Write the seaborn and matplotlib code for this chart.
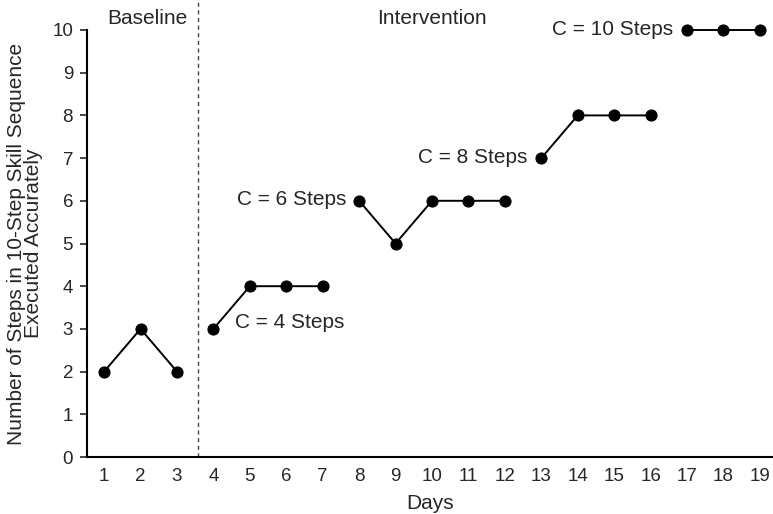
import matplotlib
matplotlib.use("Agg")
import matplotlib.pyplot as plt
import seaborn as sns
import pandas as pd

days = list(range(1, 20))
steps = [2, 3, 2, 3, 4, 4, 4, 6, 5, 6, 6, 6, 7, 8, 8, 8, 10, 10, 10]
phase = [0, 0, 0, 1, 1, 1, 1, 2, 2, 2, 2, 2, 3, 3, 3, 3, 4, 4, 4]
criterion_labels = ["C = 4 Steps", "C = 6 Steps", "C = 8 Steps", "C = 10 Steps"]
phase_names = ["Baseline", "Intervention"]

df = pd.DataFrame({"Day": days, "Steps": steps, "Phase": phase})

sns.set_style("white")
plt.rcParams['font.family'] = ['Liberation Sans', 'DejaVu Sans']

fig = plt.figure(figsize=(7.73, 5.14), dpi=100)
ax = fig.add_axes([87/773, 57/514, 1 - 87/773, (457 - 30)/514])

for p, g in df.groupby("Phase"):
    sns.lineplot(data=g, x="Day", y="Steps", ax=ax, color="black", lw=1.4,
                 marker="o", markersize=8, markeredgecolor="black", legend=False,
                 clip_on=False)

ax.plot([3.58, 3.58], [0, 10.72], color="#444444", ls=(0, (3, 2.5)), lw=1, clip_on=False)

fs = 15
ax.text(2.18, 10.28, phase_names[0], ha="center", va="center", fontsize=fs)
ax.text(10.0, 10.28, phase_names[1], ha="center", va="center", fontsize=fs)
ax.text(4.6, 3.14, criterion_labels[0], ha="left", va="center", fontsize=fs)
ax.text(7.64, 6.04, criterion_labels[1], ha="right", va="center", fontsize=fs)
ax.text(12.62, 7.02, criterion_labels[2], ha="right", va="center", fontsize=fs)
ax.text(16.61, 10.02, criterion_labels[3], ha="right", va="center", fontsize=fs)

ax.set_xlim(0.53, 19.36)
ax.set_ylim(0, 10)
ax.set_xticks(days)
ax.set_yticks(range(0, 11))
ax.tick_params(axis="y", which="both", left=True, length=5, width=1.2, labelsize=13.5, pad=5)
ax.tick_params(axis="x", bottom=False, length=0, labelsize=13.5, pad=8)
ax.set_xlabel("Days", fontsize=fs, labelpad=6.5)
ax.set_ylabel("Number of Steps in 10-Step Skill Sequence\nExecuted Accurately",
              fontsize=fs, labelpad=7, linespacing=0.85)
for s in ["top", "right"]:
    ax.spines[s].set_visible(False)
for s in ["left", "bottom"]:
    ax.spines[s].set_color("black")
    ax.spines[s].set_linewidth(1.5)

fig.savefig("out.png", dpi=100)
